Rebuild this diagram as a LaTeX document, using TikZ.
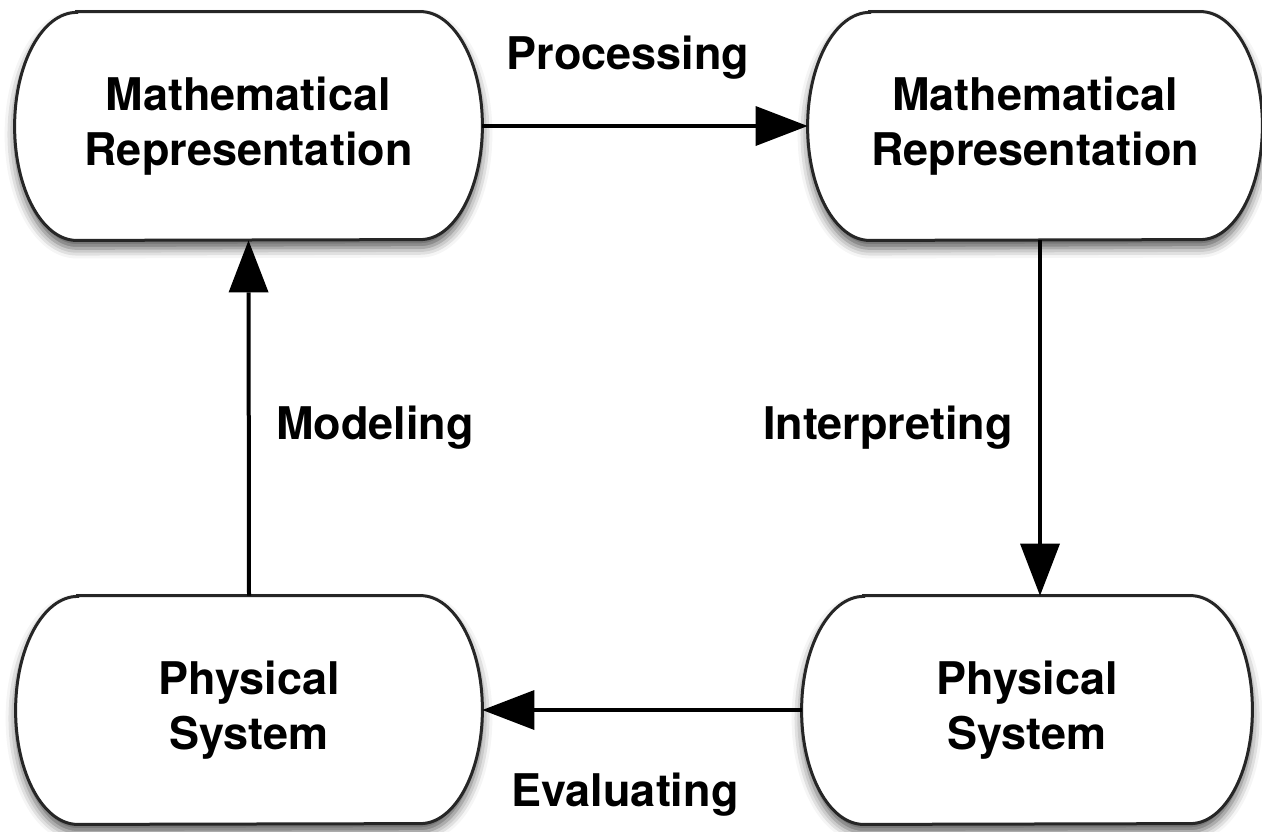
\documentclass[tikz,border=0pt]{standalone}
\usepackage{fontspec}
\setmainfont{TeX Gyre Heros}
\usetikzlibrary{arrows.meta,shadows.blur,backgrounds}
\tikzset{
  boxnode/.style={inner sep=0pt, align=center, minimum height=114pt,
    font=\fontsize{22.5}{27.5}\selectfont\bfseries},
  lbl/.style={inner sep=0pt, font=\fontsize{22.5}{27.5}\selectfont\bfseries},
  flow/.style={line width=2pt, draw=black,
    -{Triangle[length=26pt,width=20pt,fill=black,line width=0pt]}},
  outline/.style={draw=black!85, line width=1.5pt, fill=white,
    blur shadow={shadow xshift=0pt, shadow yshift=-4pt, shadow blur radius=5pt, shadow opacity=65}}
}
\newcommand\stadiumpath[2]{%
  \path[outline] ([xshift=#2]#1.north west) -- ([xshift=-#2]#1.north east)
    arc[start angle=90,end angle=-90,x radius=#2,y radius=57pt]
    -- ([xshift=#2]#1.south west)
    arc[start angle=270,end angle=90,x radius=#2,y radius=57pt] -- cycle;}
\begin{document}
\begin{tikzpicture}[x=0.5pt,y=-0.5pt]
\useasboundingbox (0,0) rectangle (1262,831);
\node[boxnode, minimum width=233.5pt] (mr1) at (248.5,126) {Mathematical\\Representation};
\node[boxnode, minimum width=227pt] (mr2) at (1035,126) {Mathematical\\Representation};
\node[boxnode, minimum width=233pt] (ps1) at (249,710) {Physical\\System};
\node[boxnode, minimum width=225pt] (ps2) at (1027,710) {Physical\\System};
\begin{pgfonlayer}{background}
\begin{scope}
\stadiumpath{mr1}{31pt}
\stadiumpath{mr2}{31pt}
\stadiumpath{ps1}{31pt}
\stadiumpath{ps2}{31pt}
\end{scope}
\end{pgfonlayer}
\coordinate (ix) at (1040,0);
\draw[flow] (mr1.east) -- (mr2.west);
\draw[flow] (mr2.south -| ix) -- (ps2.north -| ix);
\draw[flow] (ps2.west) -- (ps1.east);
\draw[flow] (ps1.north) -- (mr1.south);
\node[lbl] (lproc) at (628,58) {Processing};
\node[lbl] (linterp) at (888,428) {Interpreting};
\node[lbl] (lmodel) at (375,428) {Modeling};
\node[lbl] (leval) at (625,795) {Evaluating};
\end{tikzpicture}
\end{document}
